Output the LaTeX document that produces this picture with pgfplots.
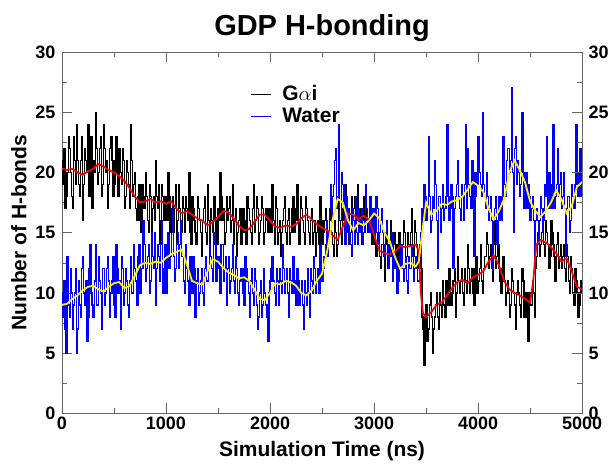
\documentclass[border=0pt]{standalone}
\usepackage{fontspec}
\setmainfont{Liberation Sans}
\usepackage{pgfplots}
\usepackage{pgfplotstable}
\pgfplotsset{compat=1.18}

% raw H-bond counts: t (ns), g = Galpha i, w = water
\pgfplotstableread{
t g w
0 19 8
10 21 10
20 22 11
30 17 7
40 18 5
50 20 13
60 23 9
70 22 8
80 20 12
90 18 10
100 17 7
110 23 9
120 21 10
130 19 12
140 24 5
150 21 7
160 19 11
170 18 9
180 21 8
190 23 12
200 16 13
210 19 10
220 22 9
230 21 11
240 20 6
250 24 8
260 18 12
270 20 14
280 23 10
290 17 9
300 21 8
310 20 11
320 25 14
330 22 9
340 19 9
350 20 13
360 22 11
370 23 10
380 18 7
390 19 12
400 24 12
410 22 9
420 20 10
430 21 12
440 17 13
450 19 11
460 22 8
470 23 10
480 21 11
490 18 13
500 19 9
510 21 8
520 23 14
530 20 12
540 18 10
550 22 11
560 20 7
570 19 13
580 22 12
590 21 9
600 17 10
610 18 12
620 21 11
630 20 9
640 19 8
650 17 11
660 24 13
670 21 10
680 18 10
690 19 14
700 20 12
710 17 11
720 16 9
730 18 13
740 19 14
750 16 10
760 15 12
770 19 12
780 18 16
790 17 14
800 20 11
810 18 12
820 16 13
830 15 14
840 19 10
850 18 11
860 15 15
870 17 13
880 18 12
890 16 15
900 21 9
910 18 12
920 17 14
930 19 13
940 14 11
950 16 14
960 19 16
970 18 10
980 16 12
990 17 14
1000 18 10
1010 16 13
1020 20 15
1030 18 12
1040 15 13
1050 17 15
1060 18 17
1070 15 13
1080 17 11
1090 19 12
1100 14 14
1110 16 15
1120 19 12
1130 17 14
1140 16 16
1150 15 13
1160 18 13
1170 17 11
1180 15 10
1190 18 14
1200 17 12
1210 16 11
1220 20 9
1230 15 13
1240 14 11
1250 18 10
1260 17 13
1270 16 12
1280 15 8
1290 14 11
1300 18 12
1310 17 9
1320 16 10
1330 15 11
1340 13 12
1350 16 10
1360 17 9
1370 18 12
1380 15 13
1390 14 11
1400 19 11
1410 16 12
1420 14 14
1430 17 13
1440 16 12
1450 15 11
1460 18 15
1470 16 14
1480 15 11
1490 14 12
1500 17 13
1510 16 12
1520 20 10
1530 18 14
1540 16 14
1550 17 11
1560 14 12
1570 15 13
1580 18 9
1590 16 12
1600 17 13
1610 18 10
1620 15 11
1630 16 12
1640 19 14
1650 14 11
1660 16 10
1670 17 13
1680 13 12
1690 15 10
1700 16 9
1710 17 11
1720 14 12
1730 15 12
1740 17 10
1750 16 9
1760 15 13
1770 14 12
1780 18 11
1790 17 10
1800 16 8
1810 15 11
1820 14 12
1830 17 10
1840 19 9
1850 15 12
1860 16 11
1870 18 9
1880 17 7
1890 14 8
1900 15 10
1910 16 11
1920 18 8
1930 17 9
1940 14 12
1950 15 10
1960 17 9
1970 16 8
1980 15 6
1990 17 10
2000 16 11
2010 15 12
2020 19 13
2030 16 11
2040 14 10
2050 18 9
2060 17 12
2070 14 11
2080 15 9
2090 16 12
2100 13 11
2110 15 10
2120 16 14
2130 17 12
2140 18 10
2150 15 11
2160 14 12
2170 16 10
2180 17 8
2190 14 12
2200 15 11
2210 17 10
2220 18 13
2230 15 11
2240 16 10
2250 17 9
2260 19 12
2270 16 11
2280 14 9
2290 18 10
2300 17 11
2310 16 9
2320 15 7
2330 14 11
2340 18 10
2350 17 9
2360 16 12
2370 15 10
2380 14 8
2390 16 12
2400 17 11
2410 14 10
2420 15 13
2430 16 12
2440 13 10
2450 15 11
2460 16 12
2470 14 10
2480 18 14
2490 16 12
2500 14 11
2510 15 12
2520 16 13
2530 17 14
2540 13 16
2550 14 13
2560 15 15
2570 16 17
2580 17 19
2590 15 16
2600 14 18
2610 13 19
2620 16 21
2630 15 22
2640 13 17
2650 14 18
2660 18 24
2670 16 16
2680 15 16
2690 14 20
2700 17 19
2710 16 17
2720 19 14
2730 15 18
2740 16 17
2750 17 16
2760 14 15
2770 15 14
2780 18 13
2790 16 17
2800 17 16
2810 18 14
2820 15 18
2830 16 15
2840 19 14
2850 15 17
2860 16 16
2870 17 15
2880 14 17
2890 16 14
2900 18 15
2910 15 16
2920 16 19
2930 17 17
2940 15 16
2950 16 15
2960 17 18
2970 15 17
2980 14 15
2990 17 16
3000 16 17
3010 14 15
3020 13 18
3030 15 17
3040 15 14
3050 13 15
3060 12 16
3070 14 17
3080 14 15
3090 13 14
3100 11 13
3110 14 15
3120 15 16
3130 12 14
3140 13 12
3150 14 13
3160 16 14
3170 13 15
3180 12 11
3190 15 12
3200 14 13
3210 13 12
3220 11 10
3230 14 11
3240 15 12
3250 12 13
3260 13 14
3270 14 12
3280 16 11
3290 15 12
3300 12 13
3310 13 11
3320 15 10
3330 14 13
3340 14 12
3350 15 12
3360 17 14
3370 14 13
3380 13 11
3390 16 12
3400 15 13
3410 14 12
3420 12 11
3430 13 11
3440 14 13
3450 12 15
3460 8 17
3470 7 16
3480 4 19
3490 8 18
3500 9 16
3510 6 17
3520 7 23
3530 9 18
3540 10 15
3550 8 16
3560 5 18
3570 7 17
3580 8 21
3590 9 19
3600 10 16
3610 8 12
3620 7 18
3630 10 18
3640 9 15
3650 8 17
3660 11 19
3670 9 16
3680 8 17
3690 11 18
3700 10 24
3710 9 18
3720 12 16
3730 10 17
3740 9 19
3750 10 18
3760 11 12
3770 12 17
3780 8 18
3790 10 19
3800 13 21
3810 11 18
3820 10 17
3830 11 16
3840 12 19
3850 10 18
3860 9 16
3870 12 19
3880 11 24
3890 10 17
3900 14 22
3910 12 19
3920 10 18
3930 11 17
3940 12 21
3950 10 20
3960 9 13
3970 12 18
3980 13 20
3990 10 19
4000 11 23
4010 12 20
4020 14 19
4030 11 18
4040 10 25
4050 12 19
4060 13 18
4070 13 17
4080 15 20
4090 14 18
4100 12 16
4110 13 17
4120 14 18
4130 12 16
4140 11 12
4150 14 16
4160 16 17
4170 12 18
4180 13 14
4190 14 16
4200 12 18
4210 11 17
4220 10 16
4230 12 18
4240 13 23
4250 11 19
4260 9 18
4270 10 21
4280 11 22
4290 10 22
4300 8 20
4310 9 21
4320 12 27
4330 11 20
4340 10 15
4350 9 22
4360 7 23
4370 10 19
4380 11 21
4390 10 20
4400 9 18
4410 8 19
4420 12 25
4430 11 20
4440 8 17
4450 9 18
4460 10 20
4470 8 17
4480 6 19
4490 10 18
4500 9 16
4510 9 17
4520 11 18
4530 10 16
4540 8 12
4550 12 16
4560 13 17
4570 15 16
4580 16 14
4590 13 16
4600 14 18
4610 15 17
4620 17 15
4630 14 16
4640 13 19
4650 16 18
4660 15 23
4670 14 17
4680 12 20
4690 13 18
4700 16 17
4710 15 19
4720 14 24
4730 13 17
4740 11 18
4750 14 19
4760 15 22
4770 12 18
4780 13 19
4790 14 20
4800 12 17
4810 13 18
4820 14 20
4830 12 17
4840 11 13
4850 14 17
4860 13 18
4870 11 18
4880 10 15
4890 13 16
4900 12 19
4910 10 18
4920 9 17
4930 12 19
4940 11 24
4950 10 19
4960 8 18
4970 9 20
4980 10 22
4990 11 18
5000 9 19
}\rawdata

\begin{document}
\begin{tikzpicture}
\pgfplotsset{
  every axis/.append style={
    scale only axis, width=521pt, height=362pt,
    xmin=0, xmax=5000, ymin=0, ymax=30,
    axis line style={black!60}, every tick/.style={black!60},
    major tick length=10pt, minor tick length=5pt,
    tick label style={font=\fontsize{18}{20}\selectfont\bfseries},
    /pgf/number format/assume math mode=true,
    /pgf/number format/1000 sep={},
    ytick={0,5,...,30}, minor y tick num=1,
  }
}
\begin{axis}[
  name=main,
  xtick={0,1000,...,5000}, minor x tick num=1,
  title={\fontsize{29}{31}\selectfont\bfseries GDP H-bonding},
  title style={yshift=0.5pt},
  xlabel={\fontsize{21}{23}\selectfont\bfseries Simulation Time (ns)},
  ylabel={\fontsize{21}{23}\selectfont\bfseries Number of H-bonds},
  xlabel style={yshift=-5pt}, ylabel shift=2pt,
  yticklabel style={xshift=-3pt},
  legend style={at={(0.356,0.918)}, anchor=north west, draw=none, fill=none,
    font=\fontsize{21}{23}\selectfont\bfseries, row sep=2pt, column sep=9pt},
  legend cell align=left,
]
\addplot[black, line width=1.3pt, const plot, forget plot] table[x=t, y=g] {\rawdata};
\addplot[blue, line width=1.3pt, const plot, forget plot] table[x=t, y=w] {\rawdata};
\addplot[red, line width=1.8pt, forget plot] coordinates {
(0,20.3)(50,20.2)(100,20.3)(150,20.0)(200,19.8)(250,20.1)(300,20.3)(350,20.7)(400,20.5)
(450,20.2)(500,20.0)(550,19.7)(600,19.3)(650,18.7)(700,18.0)(750,17.5)(800,17.6)(850,17.8)
(900,17.5)(950,17.6)(1000,17.4)(1050,17.6)(1100,17.0)(1150,16.6)(1200,16.8)(1250,16.5)
(1300,16.2)(1350,16.0)(1400,15.6)(1450,15.9)(1500,16.3)(1550,16.8)(1600,16.7)(1650,16.2)
(1700,15.6)(1750,15.2)(1800,15.3)(1850,15.9)(1900,16.5)(1950,16.5)(2000,16.0)(2050,15.5)
(2100,15.4)(2150,15.6)(2200,15.5)(2250,15.7)(2300,16.2)(2350,16.5)(2400,16.1)(2450,15.7)
(2500,15.4)(2550,15.2)(2600,14.8)(2650,14.4)(2700,15.5)(2750,16.6)(2800,16.5)(2850,16.1)
(2900,16.4)(2950,16.1)(3000,14.8)(3050,13.5)(3100,13.3)(3150,13.2)(3200,13.4)(3250,13.9)
(3300,13.8)(3350,13.9)(3400,14.0)(3430,13.5)(3450,10.0)(3470,8.3)(3500,8.0)(3550,8.4)
(3600,9.0)(3650,9.2)(3700,9.8)(3750,10.4)(3800,10.9)(3850,11.1)(3900,10.8)(3950,11.3)
(4000,11.5)(4050,11.8)(4100,12.6)(4150,13.1)(4200,12.3)(4250,11.0)(4300,10.3)(4350,10.0)
(4400,9.8)(4450,9.5)(4500,9.2)(4530,11.0)(4560,14.0)(4600,14.4)(4650,14.2)(4700,13.8)
(4750,13.3)(4800,12.6)(4850,12.9)(4900,11.8)(4950,10.5)(5000,10.3)
};
\addplot[yellow, line width=1.8pt, forget plot] coordinates {
(0,9.0)(50,9.1)(100,9.5)(150,9.8)(200,10.2)(250,10.5)(300,10.6)(350,10.3)(400,10.1)
(450,10.5)(500,10.8)(550,10.9)(600,10.4)(650,10.6)(700,11.4)(750,12.3)(800,12.5)(850,12.4)
(900,12.6)(950,12.5)(1000,12.9)(1050,13.2)(1100,13.4)(1150,13.6)(1200,12.4)(1250,11.0)
(1300,10.8)(1350,10.7)(1400,11.8)(1450,12.8)(1500,12.6)(1550,12.1)(1600,11.7)(1650,11.5)
(1700,11.2)(1750,11.3)(1800,11.0)(1850,10.3)(1900,9.5)(1950,9.4)(2000,10.0)(2050,10.8)
(2100,10.7)(2150,11.0)(2200,10.9)(2250,10.6)(2300,10.0)(2350,9.8)(2400,10.2)(2450,11.0)
(2500,11.6)(2550,13.5)(2600,16.0)(2650,17.8)(2700,17.5)(2750,16.0)(2800,15.2)(2850,15.8)
(2900,15.6)(2950,16.0)(3000,16.6)(3050,16.2)(3100,15.0)(3150,14.3)(3200,13.0)(3250,12.0)
(3300,12.4)(3350,12.5)(3400,12.2)(3430,12.6)(3470,15.5)(3500,17.5)(3550,16.5)(3600,16.8)
(3650,17.4)(3700,17.3)(3750,17.6)(3800,17.7)(3850,18.0)(3900,18.6)(3950,19.2)(4000,18.9)
(4050,18.4)(4100,17.0)(4150,16.1)(4200,16.8)(4250,17.8)(4300,20.0)(4350,21.0)(4400,20.2)
(4450,19.2)(4500,17.6)(4550,16.8)(4600,16.3)(4650,16.8)(4700,17.5)(4750,18.5)(4800,17.8)
(4850,16.6)(4900,17.2)(4950,18.8)(5000,19.2)
};
\addlegendimage{legend image code/.code={\draw[black, line width=1pt] (0pt,0pt) -- (20pt,0pt);}}
\addlegendentry{G$\alpha$i}
\addlegendimage{legend image code/.code={\draw[blue, line width=1pt] (0pt,0pt) -- (20pt,0pt);}}
\addlegendentry{Water}
\end{axis}
% right-hand tick labels
\begin{axis}[
  hide x axis, axis y line*=right,
  yticklabel style={xshift=3pt},
]
\addplot[draw=none] coordinates {(0,0)};
\end{axis}
% page margins as in the reference
\path ([shift={(-62pt,-46pt)}]main.south west) rectangle ([shift={(29pt,52pt)}]main.north east);
\end{tikzpicture}
\end{document}
